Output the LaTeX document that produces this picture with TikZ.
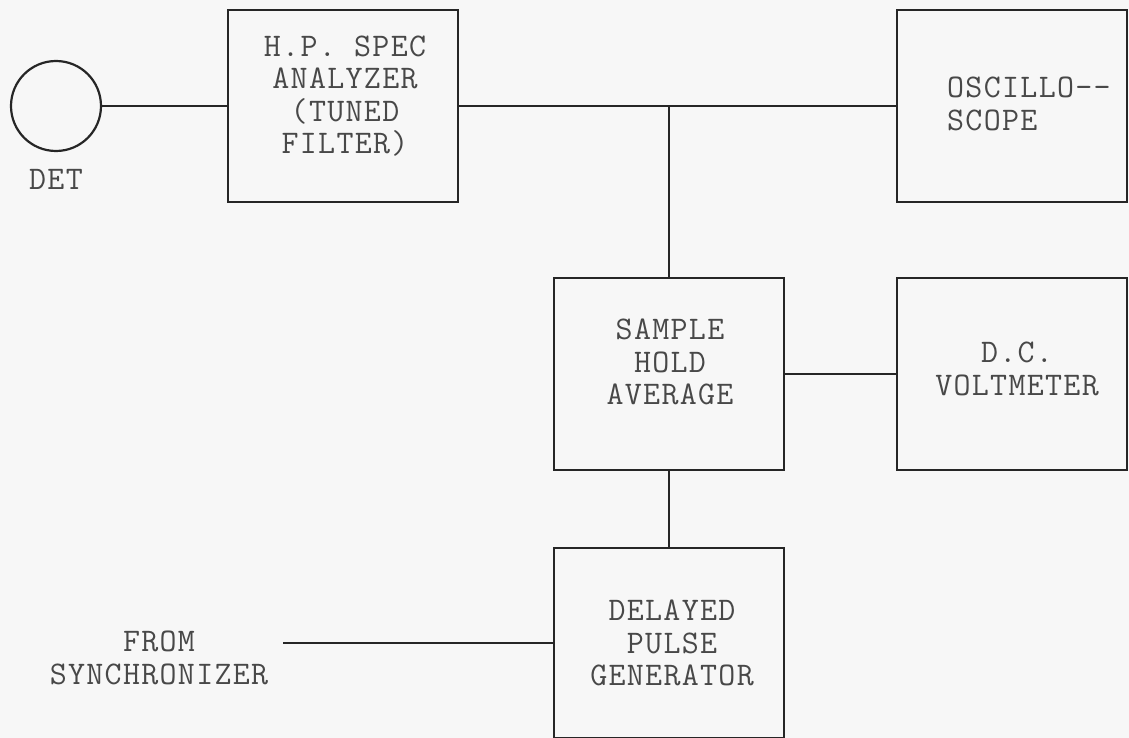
\documentclass[tikz,border=0pt]{standalone}
\usepackage{fontspec}
\setmonofont{Latin Modern Mono}[LetterSpace=4]
\definecolor{ink}{HTML}{262626}
\definecolor{typed}{HTML}{484848}
\definecolor{paper}{HTML}{F7F7F7}
\begin{document}
\begin{tikzpicture}[x=1pt,y=-1pt,
  every node/.style={font=\fontsize{33}{32.5}\selectfont\ttfamily, text=typed, align=center, inner sep=0pt},
  blk/.style={draw=ink, line width=2.2pt, minimum width=230pt, minimum height=192pt},
  wire/.style={draw=ink, line width=2.2pt}]
\fill[paper] (0,0) rectangle (1129,738);
\useasboundingbox (0,0) rectangle (1129,738);

\node[draw=ink, line width=2.2pt, circle, minimum size=90pt] (det) at (56,106) {};
\node (detl) at (56,179) {DET};

\node[blk] (hp) at (343,106) {};
\node (hpt) at (345,96) {H.P. SPEC\\ANALYZER\\(TUNED\\FILTER)};

\node[blk] (osc) at (1012,106) {};
\node[align=left, anchor=west] (osct) at (947,104) {OSCILLO-{}-\\SCOPE};

\node[blk] (sam) at (669,374) {};
\node (samt) at (670,362) {SAMPLE\\HOLD\\AVERAGE};

\node[blk] (dcv) at (1012,374) {};
\node (dcvt) at (1017,369) {D.C.\\VOLTMETER};

\node[blk, minimum height=190pt] (dpg) at (669,643) {};
\node (dpgt) at (672,643) {DELAYED\\PULSE\\GENERATOR};

\node (sync) at (159,658) {FROM\\SYNCHRONIZER};
\coordinate (syncend) at (283,643);
\coordinate (junc) at (669,107);

\draw[wire] (det.east) -- (det.east -| hp.west);
\draw[wire] (hp.east) -- (osc.west);
\draw[wire] (junc) -- (junc |- sam.north);
\draw[wire] (sam.east |- dcv.west) -- (dcv.west);
\draw[wire] (sam.south) -- (dpg.north);
\draw[wire] (syncend) -- (syncend -| dpg.west);
\end{tikzpicture}
\end{document}
